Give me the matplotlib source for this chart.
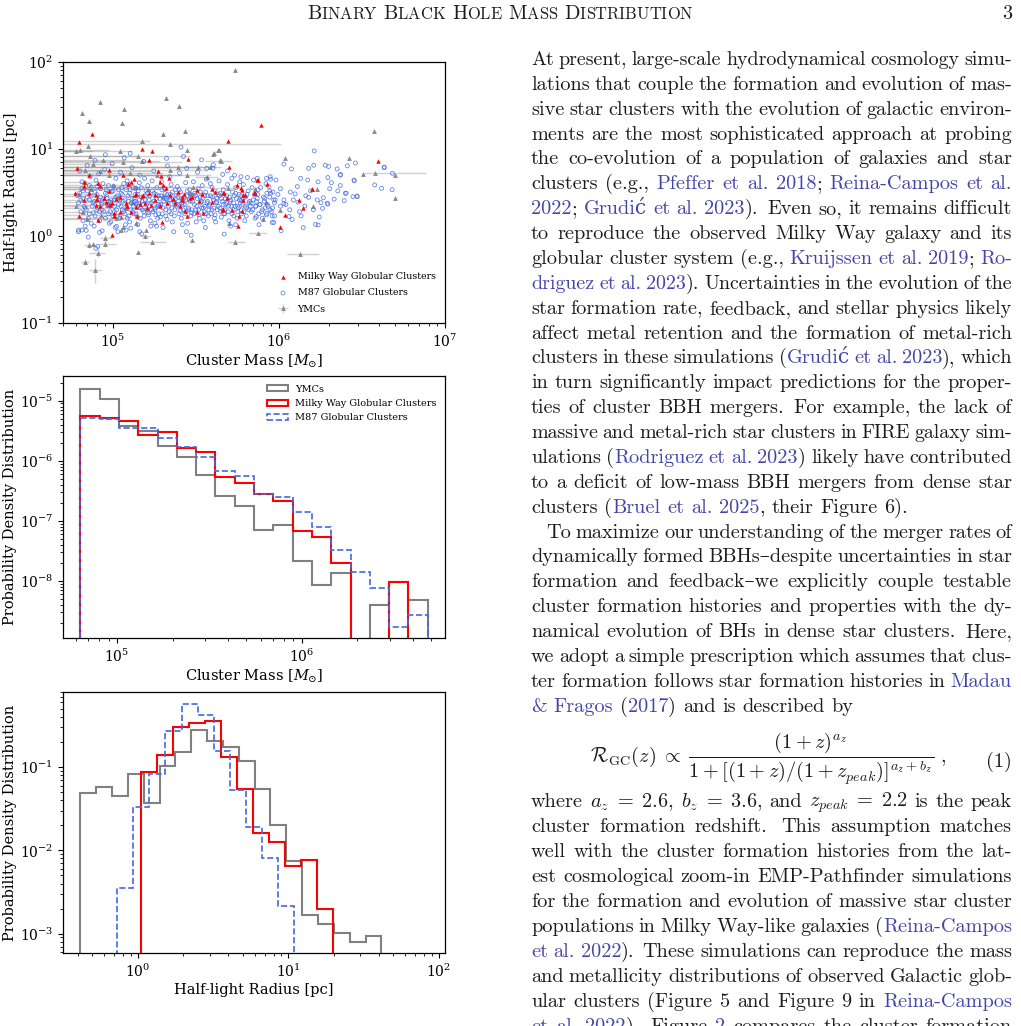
import numpy as np
import matplotlib
matplotlib.use("Agg")
import matplotlib.pyplot as plt

plt.rcParams['font.family'] = 'DejaVu Serif'
plt.rcParams['mathtext.fontset'] = 'dejavuserif'

W, H = 1021, 1026

# ---------------- data ----------------
# Milky Way GCs: (mass [1e5 Msun], half-light radius [pc])
mw_points = [
    (0.75, 14.7), (0.62, 12.1), (4.9, 12.2), (1.49, 9.9), (1.73, 9.4), (1.65, 7.4), (2.84, 7.7),
    (5.0, 6.25), (0.61, 6.0), (0.95, 5.7), (1.87, 5.6), (0.72, 5.0), (1.15, 4.98), (1.96, 4.93),
    (7.5, 4.4), (1.33, 4.48), (1.28, 4.2), (2.18, 4.68), (0.67, 4.2), (0.81, 4.03), (0.83, 3.76),
    (1.91, 4.2), (2.0, 3.86), (1.23, 3.93), (2.08, 3.53), (5.6, 3.86), (0.67, 3.76), (0.59, 3.1),
    (0.72, 3.1), (0.79, 2.97), (0.95, 3.32), (1.1, 2.83), (1.35, 2.97), (1.65, 3.15), (1.79, 2.97),
    (2.2, 2.97), (2.47, 3.24), (2.59, 2.83), (2.98, 2.83), (3.19, 3.38), (3.94, 3.44), (4.12, 3.24),
    (4.62, 3.15), (5.97, 3.38), (6.25, 2.97), (7.2, 3.1), (1.51, 2.97), (1.37, 3.01), (1.5, 2.88),
    (2.67, 3.04), (3.42, 3.04), (4.69, 3.1), (6.05, 2.97), (0.67, 2.59), (0.8, 2.64), (0.91, 2.48),
    (0.98, 2.41), (1.04, 2.64), (1.19, 2.41), (1.45, 2.33), (1.56, 2.38), (1.79, 2.59), (2.12, 2.41),
    (2.36, 2.38), (2.59, 2.59), (2.91, 2.71), (3.94, 2.48), (4.85, 2.71), (6.05, 2.59), (0.79, 2.28),
    (0.84, 2.21), (0.96, 2.28), (1.21, 2.21), (1.38, 2.17), (1.61, 2.08), (1.91, 2.21), (2.53, 2.21),
    (2.71, 1.95), (3.19, 1.91), (3.5, 1.82), (4.52, 2.0), (5.2, 2.0), (5.97, 1.95), (1.01, 1.82),
    (1.11, 1.91), (1.29, 1.91), (1.4, 1.7), (0.62, 1.7), (0.81, 1.53), (1.02, 1.7), (1.98, 1.44),
    (2.81, 1.7), (5.7, 1.31), (0.99, 1.02), (10.1, 1.27), (7.8, 19.1), (39.6, 7.3), (10.9, 1.75),
    (15.8, 3.47), (14.0, 2.08), (13.2, 2.57), (8.45, 3.93), (7.4, 4.4), (7.1, 3.1), (5.78, 1.71),
    (5.9, 3.55), (4.6, 2.03), (3.3, 2.55), (2.3, 2.65), (1.7, 2.25), (0.88, 2.75),
]

# M87 GCs: (mass [1e5 Msun], half-light radius [pc])
m87_points = [
    (0.62, 2.4), (0.63, 3.1), (0.64, 1.9), (0.65, 4.2), (0.61, 2.9), (0.66, 1.5), (0.67, 2.2), (0.63, 5.6),
    (0.65, 3.5), (0.68, 1.3), (0.62, 1.17), (0.66, 2.7), (0.65, 1.17), (0.62, 1.12),
    (0.69, 2.0), (0.70, 3.3), (0.71, 1.6), (0.72, 2.6), (0.73, 4.8), (0.74, 1.4), (0.70, 6.5), (0.75, 2.2),
    (0.72, 3.8), (0.69, 1.16), (0.74, 2.9), (0.76, 1.85), (0.71, 0.97),
    (0.77, 2.5), (0.78, 1.7), (0.80, 3.0), (0.81, 2.1), (0.79, 4.4), (0.83, 1.5), (0.84, 2.8), (0.82, 5.2),
    (0.77, 1.3), (0.80, 3.7), (0.85, 2.3), (0.78, 7.4), (0.83, 1.9), (0.79, 0.72), (0.81, 0.76), (0.83, 1.1),
    (0.86, 2.0), (0.88, 2.7), (0.90, 1.6), (0.91, 3.4), (0.87, 4.0), (0.93, 2.3), (0.94, 1.8), (0.89, 5.8),
    (0.92, 3.0), (0.95, 1.4), (0.86, 1.15), (0.90, 8.6), (0.94, 2.5),
    (0.96, 2.2), (0.98, 3.2), (1.00, 1.7), (1.02, 2.6), (1.04, 4.6), (0.97, 1.45), (1.05, 2.0), (1.01, 3.7),
    (0.99, 6.8), (1.06, 2.9), (1.03, 1.25), (0.96, 2.45), (1.02, 1.9), (1.05, 1.29),
    (1.08, 2.3), (1.10, 1.6), (1.12, 3.1), (1.14, 2.0), (1.16, 4.0), (1.09, 2.7), (1.18, 1.8), (1.11, 5.4),
    (1.15, 2.5), (1.19, 1.35), (1.13, 3.6), (1.07, 1.12), (1.17, 7.9), (1.2, 1.17),
    (1.21, 2.1), (1.23, 2.9), (1.25, 1.7), (1.27, 3.4), (1.29, 2.4), (1.31, 1.9), (1.22, 4.3), (1.33, 2.2),
    (1.26, 1.45), (1.30, 6.1), (1.34, 2.7), (1.24, 3.9), (1.28, 1.23), (1.27, 8.9),
    (1.36, 2.5), (1.38, 1.8), (1.40, 3.0), (1.42, 2.2), (1.44, 4.1), (1.46, 1.6), (1.48, 2.8), (1.37, 3.5),
    (1.50, 2.0), (1.41, 1.35), (1.45, 5.0), (1.39, 2.4), (1.49, 1.06), (1.45, 1.12),
    (1.52, 2.3), (1.54, 1.7), (1.57, 2.9), (1.60, 2.0), (1.62, 3.8), (1.65, 2.6), (1.68, 1.5), (1.55, 4.6),
    (1.63, 1.85), (1.58, 3.3), (1.66, 2.2), (1.53, 7.2), (1.69, 1.3),
    (1.71, 2.4), (1.74, 1.9), (1.77, 3.1), (1.80, 2.1), (1.83, 2.7), (1.86, 1.6), (1.72, 4.3), (1.88, 2.3),
    (1.79, 1.4), (1.84, 3.6), (1.76, 5.6), (1.81, 1.75), (1.89, 2.9), (1.83, 1.3),
    (1.92, 2.2), (1.95, 2.9), (1.98, 1.8), (2.02, 2.5), (2.05, 3.5), (2.08, 2.0), (2.12, 1.55), (1.96, 4.2),
    (2.10, 2.7), (2.00, 1.25), (2.06, 3.1), (1.93, 1.65), (2.13, 6.4), (2.1, 7.8),
    (2.15, 2.4), (2.18, 1.9), (2.22, 3.0), (2.26, 2.1), (2.30, 2.6), (2.34, 1.7), (2.38, 3.4), (2.20, 4.8),
    (2.28, 1.45), (2.36, 2.3), (2.24, 3.9), (2.32, 1.12), (2.17, 2.8),
    (2.42, 2.2), (2.46, 2.8), (2.50, 1.8), (2.55, 3.2), (2.60, 2.4), (2.65, 2.0), (2.44, 3.7), (2.58, 1.6),
    (2.68, 2.7), (2.52, 5.3), (2.62, 1.35), (2.48, 2.5), (2.66, 8.2), (2.57, 10.5),
    (2.72, 2.3), (2.76, 1.9), (2.80, 2.9), (2.85, 2.1), (2.90, 3.4), (2.95, 1.7), (2.74, 4.1), (2.88, 2.6),
    (2.98, 2.0), (2.82, 1.4), (2.92, 3.0), (2.78, 6.0), (2.96, 1.02), (2.77, 1.12),
    (3.02, 2.5), (3.08, 1.8), (3.14, 2.9), (3.20, 2.2), (3.26, 3.5), (3.32, 1.6), (3.05, 4.2), (3.38, 2.4),
    (3.17, 1.45), (3.28, 2.0), (3.11, 3.1), (3.35, 2.8), (3.23, 5.4),
    (3.42, 2.1), (3.48, 2.7), (3.55, 1.9), (3.62, 3.2), (3.68, 2.4), (3.75, 1.7), (3.45, 3.8), (3.58, 2.2),
    (3.72, 2.9), (3.52, 1.5), (3.65, 4.5), (3.78, 2.0), (3.60, 1.25), (3.42, 7.5), (3.67, 6.0),
    (3.82, 2.3), (3.90, 1.8), (3.98, 2.8), (4.05, 2.1), (4.12, 3.3), (4.20, 2.5), (3.86, 4.0), (4.08, 1.6),
    (4.25, 2.0), (3.95, 3.6), (4.15, 1.45), (4.02, 6.6), (4.22, 2.7), (4.0, 6.0),
    (4.30, 2.2), (4.38, 2.9), (4.46, 1.9), (4.55, 2.5), (4.62, 3.4), (4.70, 2.0), (4.35, 4.3), (4.50, 1.65),
    (4.75, 2.7), (4.42, 3.1), (4.66, 1.8), (4.58, 5.1), (4.78, 2.3), (4.68, 1.05),
    (4.85, 2.4), (4.95, 1.9), (5.05, 2.8), (5.15, 2.2), (5.25, 3.2), (5.35, 1.7), (4.90, 3.9), (5.10, 2.6),
    (5.30, 2.0), (5.00, 1.5), (5.20, 4.6), (5.38, 2.9), (5.12, 1.3), (4.9, 5.6), (5.4, 5.0),
    (5.45, 2.2), (5.55, 2.7), (5.65, 1.9), (5.75, 3.0), (5.85, 2.4), (5.95, 1.8), (5.50, 3.6), (5.70, 2.1),
    (5.90, 2.9), (5.60, 1.6), (5.80, 4.2), (5.48, 1.35), (5.92, 2.55), (5.9, 4.8),
    (6.05, 2.3), (6.15, 1.9), (6.28, 2.8), (6.40, 2.1), (6.52, 3.3), (6.65, 2.5), (6.10, 3.9), (6.35, 1.7),
    (6.58, 2.0), (6.22, 1.5), (6.45, 4.7), (6.72, 2.2),
    (6.80, 2.4), (6.95, 2.0), (7.10, 3.0), (7.25, 2.2), (7.40, 2.7), (7.55, 1.8), (6.88, 3.6), (7.18, 1.6),
    (7.48, 3.4), (7.02, 4.4), (7.32, 2.5), (7.58, 1.35),
    (7.65, 2.3), (7.85, 1.9), (8.05, 2.8), (8.25, 2.1), (8.45, 3.1), (7.75, 3.6), (7.95, 1.6), (8.15, 2.5),
    (8.35, 4.0), (8.40, 1.75),
    (8.6, 2.2), (8.8, 2.8), (9.0, 1.9), (9.2, 3.2), (9.4, 2.4), (8.7, 3.7), (9.1, 1.7), (9.3, 2.6), (8.9, 4.5),
    (0.64, 2.6), (0.66, 3.3), (0.68, 2.1), (0.70, 2.8), (0.72, 1.8), (0.74, 3.6), (0.76, 2.4), (0.78, 3.2),
    (0.80, 2.0), (0.82, 2.6), (0.84, 3.5), (0.86, 2.4), (0.88, 1.9), (0.90, 3.1), (0.92, 2.7), (0.94, 3.8),
    (0.96, 1.9), (0.98, 2.6), (1.00, 3.3), (1.02, 2.2), (1.04, 2.8), (1.06, 1.7), (1.08, 3.4), (1.10, 2.6),
    (1.12, 2.2), (1.14, 3.0), (1.16, 1.9), (1.18, 2.6), (1.20, 3.4), (1.22, 1.6), (1.24, 2.5), (1.26, 3.1),
    (1.28, 2.0), (1.30, 2.7), (1.32, 3.6), (1.34, 1.8), (1.36, 3.0), (1.38, 2.3), (1.40, 1.65), (1.42, 3.3),
    (1.44, 2.6), (1.46, 2.1), (1.48, 3.6), (1.50, 2.5), (1.53, 1.9), (1.56, 2.6), (1.59, 2.3), (1.61, 3.1),
    (1.64, 1.75), (1.67, 2.9), (1.70, 2.0), (1.73, 3.3), (1.76, 2.5), (1.79, 2.0), (1.82, 3.0), (1.85, 2.2),
    (1.88, 1.8), (1.91, 2.7), (1.94, 2.3), (1.97, 3.4), (2.00, 2.1), (2.04, 2.7), (2.08, 1.7), (2.12, 3.0),
    (2.16, 2.2), (2.20, 2.6), (2.24, 1.8), (2.28, 3.2), (2.32, 2.5), (2.36, 2.0), (2.40, 2.9), (2.45, 2.3),
    (2.50, 3.4), (2.55, 1.95), (2.60, 2.7), (2.65, 2.3), (2.70, 1.8), (2.75, 2.6), (2.80, 3.3), (2.86, 2.0),
    (2.92, 2.5), (2.98, 1.85), (3.04, 2.9), (3.10, 2.3), (3.16, 2.0), (3.22, 2.7), (3.29, 1.75), (3.36, 3.2),
    (3.43, 2.5), (3.50, 2.1), (3.57, 2.9), (3.64, 1.8), (3.71, 2.5), (3.79, 2.2), (3.87, 2.9), (3.95, 2.0),
    (4.03, 2.6), (4.12, 1.75), (4.21, 2.4), (4.30, 3.0), (4.40, 2.1), (4.50, 2.7), (4.61, 2.3), (4.72, 1.8),
    (4.84, 2.9), (4.96, 2.2), (5.08, 2.5), (5.21, 1.8), (5.34, 2.4), (5.48, 3.1), (5.62, 2.2), (5.77, 2.6),
    (5.92, 2.0), (6.08, 2.7), (6.25, 2.2), (6.42, 3.0), (6.60, 2.4), (6.80, 1.9), (7.00, 2.6), (7.22, 2.2),
    (7.45, 3.0), (7.70, 2.3), (7.95, 2.0), (8.20, 2.7), (8.50, 2.3), (8.80, 3.3), (9.15, 2.1), (9.50, 2.6),
    (9.85, 3.0), (10.2, 2.2),
    (16.3, 9.5), (10.7, 6.7), (11.9, 5.9), (15.1, 6.0), (16.2, 6.5), (19.0, 6.5), (22.4, 5.9), (23.5, 5.1),
    (28.9, 6.9), (19.7, 4.7), (20.7, 4.1), (17.2, 4.2), (20.2, 3.5), (22.6, 3.3), (25.4, 3.1), (28.3, 4.4),
    (27.9, 2.83), (29.6, 2.83), (24.7, 2.55), (37.7, 3.86), (41.5, 3.53), (48.0, 3.41), (43.1, 6.1),
    (48.2, 5.25), (17.9, 2.42), (19.7, 2.33), (18.3, 2.08), (16.1, 2.0), (17.2, 1.34), (13.3, 1.9),
    (13.6, 1.7), (14.3, 2.21), (15.1, 2.78), (17.0, 2.6), (12.9, 3.7), (13.5, 4.6), (14.9, 4.4), (11.7, 3.2),
    (12.2, 2.6), (11.6, 2.0), (11.5, 1.67), (9.3, 1.43), (10.2, 3.5), (9.6, 4.4), (8.85, 4.8), (8.4, 4.6),
    (7.4, 4.6), (8.9, 3.1), (10.7, 2.6), (10.7, 2.35), (8.85, 2.0), (8.45, 1.82), (9.4, 1.7), (7.3, 1.67),
    (25.8, 6.4), (43.0, 6.2), (28.4, 4.3), (23.4, 3.8), (25.1, 3.1), (29.5, 2.88), (19.9, 6.3), (23.4, 5.0),
    (19.5, 2.38), (14.5, 2.9), (12.5, 3.05), (11.0, 2.3), (13.0, 2.45), (15.5, 3.3), (18.5, 2.75),
    (21.5, 2.65), (12.0, 1.55), (14.0, 1.25), (10.3, 1.15), (17.5, 1.65), (9.1, 1.43), (16.6, 1.36),
]

# YMCs: (mass, radius, mass low, mass high, radius low, radius high)  [1e5 Msun, pc]
ymc_points = [
    (5.4, 80, 5.4, 5.4, 80, 80), (0.84, 34.8, 0.84, 0.84, 34.8, 34.8), (0.65, 25.6, 0.65, 0.65, 25.6, 25.6),
    (0.72, 21, 0.72, 0.72, 21, 21), (2.1, 38.6, 2.1, 2.1, 38.6, 38.6), (2.49, 31.6, 2.49, 2.49, 31.6, 31.6),
    (1.16, 28.9, 1.16, 1.16, 28.9, 28.9), (1.14, 20, 1.14, 1.14, 20, 20), (2.73, 16, 2.73, 2.73, 16, 16),
    (1.99, 14.8, 1.99, 1.99, 14.8, 14.8), (0.71, 10.9, 0.71, 0.71, 10.9, 10.9),
    (37.4, 16.3, 37.4, 37.4, 16.3, 16.3), (26.5, 7.8, 26.5, 26.5, 7.8, 7.8), (38, 5.3, 32.4, 77, 5.3, 5.3),
    (32, 5.1, 32, 32, 5.1, 5.1), (50, 5.0, 50, 50, 5.0, 5.0), (50, 2.76, 50, 50, 2.76, 2.76),
    (15.8, 3.5, 15.8, 15.8, 3.5, 3.5), (10.9, 7.8, 10.9, 10.9, 7.8, 7.8), (4.36, 9.7, 4.36, 4.36, 9.7, 9.7),
    (4.05, 8.9, 4.05, 4.05, 8.9, 8.9), (2.8, 9.7, 2.8, 2.8, 9.7, 9.7), (4.4, 7.5, 4.4, 4.4, 7.5, 7.5),
    (5.0, 1.40, 5.0, 5.0, 1.40, 1.40), (3.0, 0.89, 3.0, 3.0, 0.89, 0.89), (1.42, 0.66, 1.42, 1.42, 0.66, 0.66),
    (5.47, 0.86, 4.9, 6.2, 0.80, 0.93), (7.5, 1.09, 6.6, 8.5, 1.09, 1.09), (13.4, 0.62, 11.1, 17.5, 0.59, 0.65),
    (0.68, 0.50, 0.64, 0.72, 0.46, 0.55), (0.78, 0.41, 0.72, 0.85, 0.29, 0.54),
    (0.81, 0.64, 0.72, 0.90, 0.58, 0.70), (0.72, 0.79, 0.67, 0.78, 0.72, 0.88), (0.76, 0.81, 0.76, 0.76, 0.81, 0.81),
    (0.90, 0.81, 0.82, 1.05, 0.74, 0.90), (0.90, 0.94, 0.84, 0.98, 0.86, 1.02),
    (1.73, 0.85, 1.45, 2.1, 0.80, 0.90), (1.57, 0.99, 1.45, 1.7, 0.93, 1.06),
    (1.12, 1.17, 1.12, 1.12, 1.17, 1.17), (1.38, 1.4, 1.38, 1.38, 1.4, 1.4), (1.15, 1.28, 1.15, 1.15, 1.28, 1.28),
    (1.12, 1.67, 1.12, 1.12, 1.67, 1.67), (1.58, 1.17, 1.58, 1.58, 1.17, 1.17), (7.96, 1.57, 7.96, 7.96, 1.57, 1.57),
    (10.2, 2.0, 10.2, 10.2, 2.0, 2.0), (17, 3.5, 17, 17, 3.5, 3.5), (16, 2.23, 16, 16, 2.23, 2.23),
    (7.2, 3.5, 7.2, 7.2, 3.5, 3.5), (8.4, 2.48, 8.4, 8.4, 2.48, 2.48),
    (1.5, 12.3, 0.1, 1.66, 12.3, 12.3), (2.22, 11.5, 0.1, 10.3, 11.5, 11.5), (0.63, 9.7, 0.1, 0.95, 9.7, 9.7),
    (0.60, 9.5, 0.1, 0.75, 9.5, 9.5), (1.1, 9.6, 0.1, 1.3, 9.6, 9.6), (1.41, 8.4, 0.1, 2.9, 8.4, 8.4),
    (0.73, 8.4, 0.1, 1.4, 8.4, 8.4), (4.3, 9.7, 4.3, 4.3, 9.7, 9.7), (4.0, 8.75, 4.0, 4.0, 8.75, 8.75),
    (4.48, 7.3, 3.6, 5.2, 7.3, 7.3), (3.27, 6.15, 0.1, 4.2, 6.15, 6.15), (3.86, 6.15, 0.1, 4.5, 6.15, 6.15),
    (2.45, 6.25, 0.1, 3.3, 6.25, 6.25), (1.49, 7.3, 0.1, 1.9, 7.3, 7.3), (1.15, 7.1, 0.1, 2.6, 7.1, 7.1),
    (0.87, 7.5, 0.1, 1.2, 7.5, 7.5), (0.76, 6.7, 0.1, 1.0, 6.7, 6.7), (0.68, 5.7, 0.1, 0.9, 5.7, 5.7),
    (0.83, 5.6, 0.1, 1.7, 5.6, 5.6), (0.95, 5.0, 0.1, 2.2, 5.0, 5.0), (1.26, 5.25, 0.1, 2.0, 5.25, 5.25),
    (1.83, 5.0, 0.1, 2.6, 5.0, 5.0), (2.2, 5.7, 0.1, 3.7, 5.7, 5.7), (2.78, 5.0, 0.1, 3.9, 5.0, 5.0),
    (3.67, 4.8, 3.1, 4.3, 4.8, 4.8), (0.68, 4.2, 0.1, 0.85, 4.2, 4.2), (0.74, 3.5, 0.1, 1.1, 3.5, 3.5),
    (1.0, 3.85, 0.1, 1.35, 3.85, 3.85), (1.38, 3.7, 0.1, 2.3, 3.7, 3.7), (1.63, 3.5, 0.1, 2.1, 3.5, 3.5),
    (3.05, 3.7, 0.1, 4.0, 3.7, 3.7), (2.9, 3.1, 2.3, 3.6, 3.1, 3.1), (4.95, 3.6, 4.2, 5.8, 3.6, 3.6),
    (0.62, 3.0, 0.1, 0.8, 3.0, 3.0), (0.79, 2.6, 0.1, 1.0, 2.6, 2.6), (0.92, 2.3, 0.1, 1.4, 2.3, 2.3),
    (1.2, 2.1, 0.1, 1.6, 2.1, 2.1), (0.66, 1.9, 0.1, 0.95, 1.9, 1.9), (0.85, 1.75, 0.1, 1.15, 1.75, 1.75),
    (1.05, 1.6, 0.1, 1.25, 1.6, 1.6), (0.7, 1.55, 0.1, 1.0, 1.55, 1.55), (1.3, 2.45, 0.1, 2.2, 2.45, 2.45),
    (2.0, 2.9, 0.1, 2.5, 2.9, 2.9), (0.6, 2.2, 0.1, 0.72, 2.2, 2.2),
]

# mass PDFs (shared log bins)
mass_edges = np.logspace(4.802, 6.683, 19)
ymc_mass_pdf = [1.58e-5, 1.05e-5, 3.8e-6, 3.12e-6, 1.76e-6, 1.14e-6, 5.9e-7, 2.61e-7, 1.8e-7,
                7.1e-8, 8.4e-8, 2.15e-8, 8.5e-9, 1.33e-8, 0, 3.93e-9, 9.5e-9, 4.9e-9]
mw_mass_pdf = [5.55e-6, 5.08e-6, 4.6e-6, 2.68e-6, 2.96e-6, 1.63e-6, 1.38e-6, 5.4e-7, 4.2e-7,
               2.8e-7, 2.15e-7, 6.7e-8, 5.3e-8, 2.0e-8, 0, 0, 9.7e-9, 0]
m87_mass_pdf = [5.2e-6, 4.9e-6, 3.55e-6, 3.55e-6, 2.42e-6, 1.71e-6, 1.17e-6, 6.8e-7, 5.5e-7,
                2.8e-7, 2.5e-7, 1.38e-7, 8.0e-8, 3.25e-8, 1.4e-8, 7.7e-9, 1.73e-9, 2.7e-9]

# radius PDFs (own log bins per sample)
ymc_r_edges = np.logspace(-0.381, 1.619, 20)
mw_r_edges = np.logspace(0.022, 1.296, 13)
m87_r_edges = np.logspace(-0.137, 1.040, 12)
ymc_r_pdf = [0.0483, 0.0575, 0.0449, 0.0832, 0.037, 0.103, 0.153, 0.28, 0.209, 0.175, 0.119,
             0.054, 0.0201, 0.00745, 0.00168, 0.0013, 0.00103, 0.0008, 0.00095]
mw_r_pdf = [0.088, 0.139, 0.302, 0.34, 0.356, 0.132, 0.054, 0.0161, 0.0125, 0.0065, 0.0077, 0.002]
m87_r_pdf = [0.00356, 0.0328, 0.0817, 0.273, 0.575, 0.425, 0.157, 0.053, 0.0192, 0.0082, 0.00215]

lbl_mw = 'Milky Way Globular Clusters'
lbl_m87 = 'M87 Globular Clusters'
lbl_ymc = 'YMCs'

# ---------------- figure ----------------
fig = plt.figure(figsize=(W / 100, H / 100), dpi=100)


def px_box(l, t, r, b):
    return [l / W, 1 - b / H, (r - l) / W, (b - t) / H]


def style_axes(ax):
    ax.tick_params(labelsize=10)
    for s in ax.spines.values():
        s.set_linewidth(0.9)


# scatter panel
ax1 = fig.add_axes(px_box(63, 62, 445, 323))
ax1.set_xscale('log')
ax1.set_yscale('log')
mw = np.array(mw_points)
m87 = np.array(m87_points)
ymc = np.array(ymc_points)
ym, yr = ymc[:, 0] * 1e5, ymc[:, 1]
xerr = [ym - ymc[:, 2] * 1e5, ymc[:, 3] * 1e5 - ym]
yerr = [yr - ymc[:, 4], ymc[:, 5] - yr]
h_mw = ax1.scatter(mw[:, 0] * 1e5, mw[:, 1], marker='^', s=10, color='red', lw=0, zorder=4, label=lbl_mw)
h_m87 = ax1.scatter(m87[:, 0] * 1e5, m87[:, 1], marker='o', s=8, facecolors='none',
                    edgecolors='royalblue', lw=0.6, alpha=0.8, zorder=3, label=lbl_m87)
h_ymc = ax1.errorbar(ym, yr, xerr=xerr, yerr=yerr, fmt='^', color='#8a8a8a', ms=3.5, mew=0,
                     ecolor=(0.55, 0.55, 0.55, 0.4), elinewidth=1.0, zorder=2, label=lbl_ymc)
ax1.set_xlim(5e4, 1e7)
ax1.set_ylim(0.1, 100)
ax1.set_xlabel(r'Cluster Mass [$M_{\odot}$]', fontsize=10.5, labelpad=2)
ax1.set_ylabel('Half-light Radius [pc]', fontsize=10.5, labelpad=2)
ax1.legend(handles=[h_mw, h_m87, h_ymc], loc='lower right', frameon=False, fontsize=6.8,
           handlelength=1.3, handletextpad=0.9, borderaxespad=0.6, labelspacing=0.75)
style_axes(ax1)

# mass histogram panel
ax2 = fig.add_axes(px_box(63, 376, 445, 638))
ax2.set_xscale('log')
ax2.set_yscale('log')
mass_mid = np.sqrt(mass_edges[:-1] * mass_edges[1:])
ax2.hist(mass_mid, bins=mass_edges, weights=ymc_mass_pdf, histtype='step', color='gray', lw=1.5, label=lbl_ymc)
ax2.hist(mass_mid, bins=mass_edges, weights=mw_mass_pdf, histtype='step', color='red', lw=1.5, label=lbl_mw)
ax2.hist(mass_mid, bins=mass_edges, weights=m87_mass_pdf, histtype='step', color='royalblue', lw=1.2,
         ls='--', label=lbl_m87)
ax2.set_xlim(5.1e4, 5.98e6)
ax2.set_ylim(1.12e-9, 2.58e-5)
ax2.set_xlabel(r'Cluster Mass [$M_{\odot}$]', fontsize=10.5, labelpad=2)
ax2.set_ylabel('Probability Density Distribution', fontsize=10.5, labelpad=2)
ax2.legend(loc='upper right', frameon=False, fontsize=7.0, handlelength=2.2, handleheight=0.6,
           handletextpad=0.7, borderaxespad=0.5, labelspacing=0.55)
style_axes(ax2)

# radius histogram panel
ax3 = fig.add_axes(px_box(63, 692, 445, 953))
ax3.set_xscale('log')
ax3.set_yscale('log')
for edges, pdf, kw in [
    (ymc_r_edges, ymc_r_pdf, dict(color='gray', lw=1.5)),
    (mw_r_edges, mw_r_pdf, dict(color='red', lw=1.5)),
    (m87_r_edges, m87_r_pdf, dict(color='royalblue', lw=1.2, ls='--')),
]:
    ax3.hist(np.sqrt(edges[:-1] * edges[1:]), bins=edges, weights=pdf, histtype='step', **kw)
ax3.set_xlim(0.319, 110)
ax3.set_ylim(5.86e-4, 0.80)
ax3.set_xlabel('Half-light Radius [pc]', fontsize=10.5, labelpad=2)
ax3.set_ylabel('Probability Density Distribution', fontsize=10.5, labelpad=2)
style_axes(ax3)

# ---------------- page text ----------------
BODY = 14.6
FAMILY = ['cmr10', 'DejaVu Serif']
INK = '#1c1c1c'
LINK = '#4545a8'
COL_L, COL_R = 531, 1012
MIN_GAP = 4.5
renderer = fig.canvas.get_renderer()

para1 = [
    "At present, large-scale hydrodynamical cosmology simu-",
    "lations that couple the formation and evolution of mas-",
    "sive star clusters with the evolution of galactic environ-",
    "ments are the most sophisticated approach at probing",
    "the co-evolution of a population of galaxies and star",
    "clusters (e.g., |Pfeffer et al. 2018|; |Reina-Campos et al.|",
    "|2022|; |Grudić et al. 2023|).  Even so, it remains difficult",
    "to reproduce the observed Milky Way galaxy and its",
    "globular cluster system (e.g., |Kruijssen et al. 2019|; |Ro-|",
    "|driguez et al. 2023|). Uncertainties in the evolution of the",
    "star formation rate, feedback, and stellar physics likely",
    "affect metal retention and the formation of metal-rich",
    "clusters in these simulations (|Grudić et al. 2023|), which",
    "in turn significantly impact predictions for the proper-",
    "ties of cluster BBH mergers.  For example, the lack of",
    "massive and metal-rich star clusters in FIRE galaxy sim-",
    "ulations (|Rodriguez et al. 2023|) likely have contributed",
    "to a deficit of low-mass BBH mergers from dense star",
    "clusters (|Bruel et al. 2025|, their Figure 6).",
]
para2 = [
    "To maximize our understanding of the merger rates of",
    "dynamically formed BBHs–despite uncertainties in star",
    "formation and feedback–we explicitly couple testable",
    "cluster formation histories and properties with the dy-",
    "namical evolution of BHs in dense star clusters.  Here,",
    "we adopt a simple prescription which assumes that clus-",
    "ter formation follows star formation histories in |Madau|",
    "|& Fragos| (|2017|) and is described by",
]
para3 = [
    r"where $a_z\;=\;2.6$, $b_z\;=\;3.6$, and $z_{peak}\;=\;2.2$ is the peak",
    "cluster formation redshift.  This assumption matches",
    "well with the cluster formation histories from the lat-",
    "est cosmological zoom-in EMP-Pathfinder simulations",
    "for the formation and evolution of massive star cluster",
    "populations in Milky Way-like galaxies (|Reina-Campos|",
    "|et al. 2022|).  These simulations can reproduce the mass",
    "and metallicity distributions of observed Galactic glob-",
    "ular clusters (Figure 5 and Figure 9 in |Reina-Campos|",
    "|et al. 2022|).  Figure |2| compares the cluster formation",
]


def put(x, y, s, size, color=INK, **kw):
    return fig.text(x / W, 1 - y / H, s, fontsize=size, family=FAMILY, color=color,
                    math_fontfamily='cm', va='baseline', ha='left', **kw)


def text_width(t):
    return t.get_window_extent(renderer=renderer).width


def draw_line(y, line, justify=True, indent=0):
    words, weights, blue, w = [], [], False, 1.0
    for raw in line.split(' '):
        if raw == '':
            w += 0.4
            continue
        segs = []
        for i, part in enumerate(raw.split('|')):
            if i > 0:
                blue = not blue
            if part:
                segs.append((part, LINK if blue else INK))
        words.append(segs)
        weights.append(w)
        w = 1.0
    placed = [[put(0, y, s, BODY, c) for s, c in segs] for segs in words]
    gap_w = sum(weights[1:])
    avail = COL_R - COL_L - indent

    def measure():
        ws = [[text_width(o) for o in objs] for objs in placed]
        return ws, [sum(v) for v in ws]

    seg_w, widths = measure()
    if justify and gap_w > 0:
        unit = (avail - sum(widths)) / gap_w
        if unit < MIN_GAP:
            # squeeze the glyphs a little when cmr10 runs wider than TeX would
            scale = (avail - MIN_GAP * gap_w) / sum(widths)
            for objs in placed:
                for o in objs:
                    o.set_fontsize(BODY * scale)
            seg_w, widths = measure()
            unit = (avail - sum(widths)) / gap_w
    else:
        unit = 0.333 * BODY * 100 / 72
    x = COL_L + indent
    for k, objs in enumerate(placed):
        if k > 0:
            x += unit * weights[k]
        xx = x
        for o, ww in zip(objs, seg_w[k]):
            o.set_x(xx / W)
            xx += ww
        x += widths[k]


for k, line in enumerate(para1 + para2):
    last = (k == len(para1) - 1) or (k == len(para1) + len(para2) - 1)
    indent = 15 if k == len(para1) else 0
    draw_line(65 + k * 24.87, line, justify=not last, indent=indent)

for k, line in enumerate(para3):
    draw_line(807 + k * 24.95, line)

eq = (r'$\mathcal{R}_{\rm GC}(z)\;\propto\;'
      r'\dfrac{(1+z)^{a_z}}{1+[(1+z)/(1+z_{peak})]^{a_z+b_z}}\ ,$')
fig.text(768 / W, 1 - 759 / H, eq, fontsize=BODY, family=FAMILY, color=INK,
         math_fontfamily='cm', ha='center', va='center')
put(COL_R, 767, '(1)', BODY).set_ha('right')

# running head in small caps
head_words = ['Binary', 'Black', 'Hole', 'Mass', 'Distribution']
x = 307
for word in head_words:
    for j, ch in enumerate(word):
        t = put(x, 19, ch.upper(), 14.6 if j == 0 else 11.9)
        t.set_x(x / W)
        x += text_width(t)
    x += 0.333 * 14.6 * 100 / 72
put(COL_R, 19, '3', 14.6).set_ha('right')

fig.savefig('out.png', dpi=100)
